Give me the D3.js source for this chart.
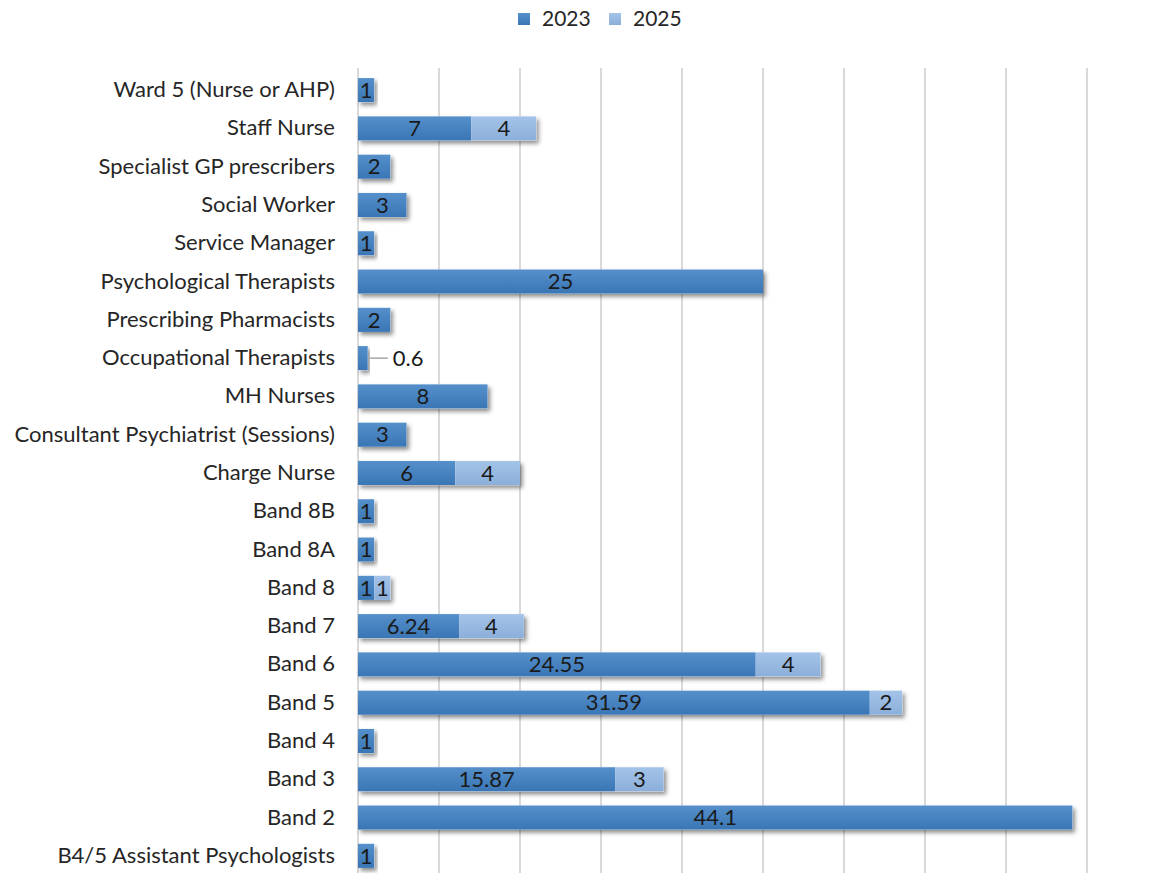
<!DOCTYPE html>
<html>
<head>
<meta charset="utf-8">
<script src="https://cdn.jsdelivr.net/npm/d3@7"></script>
<style>
  html, body { margin: 0; padding: 0; background: #fff; }
  svg { display: block; font-family: Lato, "Open Sans", sans-serif; }
</style>
</head>
<body>
<svg id="chart" width="1161" height="873"></svg>
<script>
// Staffing roles, listed top to bottom
const categories = [
  "Ward 5 (Nurse or AHP)", "Staff Nurse", "Specialist GP prescribers", "Social Worker",
  "Service Manager", "Psychological Therapists", "Prescribing Pharmacists",
  "Occupational Therapists", "MH Nurses", "Consultant Psychiatrist (Sessions)",
  "Charge Nurse", "Band 8B", "Band 8A", "Band 8", "Band 7", "Band 6", "Band 5",
  "Band 4", "Band 3", "Band 2", "B4/5 Assistant Psychologists"
];
const values2023 = [1, 7, 2, 3, 1, 25, 2, 0.6, 8, 3, 6, 1, 1, 1, 6.24, 24.55, 31.59, 1, 15.87, 44.1, 1];
const values2025 = [null, 4, null, null, null, null, null, null, null, null, 4, null, null, 1, 4, 4, 2, null, 3, null, null];
const seriesNames = ["2023", "2025"];
const xTicks = [0, 5, 10, 15, 20, 25, 30, 35, 40, 45];

const svg = d3.select("#chart");
const margin = { left: 358, right: 74, top: 71, bottom: -2 };
const W = 1161, H = 873;
const fontStack = "Lato, 'Open Sans', sans-serif";

const x = d3.scaleLinear().domain([0, 45]).range([margin.left, W - margin.right]);
const y = d3.scaleBand().domain(categories).range([margin.top, H - margin.bottom]).paddingInner(0.37).paddingOuter(0.185);

const defs = svg.append("defs");
function grad(id, top, bottom) {
  const g = defs.append("linearGradient").attr("id", id).attr("x1", 0).attr("y1", 0).attr("x2", 0).attr("y2", 1);
  g.append("stop").attr("offset", "0%").attr("stop-color", top);
  g.append("stop").attr("offset", "100%").attr("stop-color", bottom);
}
grad("g2023", "#5590cb", "#3a76b5");
grad("g2025", "#a4c3e8", "#8bafda");
const f = defs.append("filter").attr("id", "shadow").attr("x", "-10%").attr("y", "-30%").attr("width", "130%").attr("height", "190%");
f.append("feDropShadow").attr("dx", 2.5).attr("dy", 3).attr("stdDeviation", 2).attr("flood-color", "#000").attr("flood-opacity", 0.45);

// Vertical gridlines
svg.append("g").selectAll("line").data(xTicks).join("line")
  .attr("x1", d => x(d)).attr("x2", d => x(d))
  .attr("y1", 68).attr("y2", H)
  .attr("stroke", "#d9d9d9").attr("stroke-width", 2);

// Category axis labels
const yAxis = d3.axisLeft(y).tickSize(0).tickPadding(23);
const ya = svg.append("g").attr("transform", `translate(${margin.left},0)`).call(yAxis);
ya.select(".domain").remove();
ya.selectAll("text").attr("font-size", 22).attr("fill", "#262626").attr("font-family", fontStack);

// Stacked segments
const rows = categories.map((c, i) => ({ cat: c, a: values2023[i], b: values2025[i] }));
const segs = [];
rows.forEach(r => {
  if (r.a != null) segs.push({ cat: r.cat, key: "2023", x0: 0, x1: r.a, v: r.a });
  if (r.b != null) segs.push({ cat: r.cat, key: "2025", x0: r.a || 0, x1: (r.a || 0) + r.b, v: r.b });
});

const bars = svg.append("g");
rows.forEach(r => {
  const total = (r.a || 0) + (r.b || 0);
  bars.append("rect")
    .attr("x", x(0)).attr("y", y(r.cat))
    .attr("width", x(total) - x(0)).attr("height", y.bandwidth())
    .attr("fill", "#fff").attr("filter", "url(#shadow)");
});
bars.selectAll("rect.seg").data(segs).join("rect").attr("class", "seg")
  .attr("x", d => x(d.x0)).attr("y", d => y(d.cat))
  .attr("width", d => x(d.x1) - x(d.x0)).attr("height", y.bandwidth())
  .attr("fill", d => `url(#g${d.key})`);

// Value labels
const labels = svg.append("g").attr("font-size", 22).attr("fill", "#1a1a1a");
segs.forEach(d => {
  const w = x(d.x1) - x(d.x0);
  const cy = y(d.cat) + y.bandwidth() / 2;
  if (w < 12) {
    // Narrow bar: label placed outside with a leader line
    labels.append("line").attr("x1", x(d.x1) + 2).attr("x2", x(d.x1) + 20)
      .attr("y1", cy).attr("y2", cy).attr("stroke", "#a6a6a6").attr("stroke-width", 1.5);
    labels.append("text").attr("x", x(d.x1) + 25).attr("y", cy).attr("dy", "0.35em").text(d.v);
  } else {
    labels.append("text").attr("x", (x(d.x0) + x(d.x1)) / 2).attr("y", cy)
      .attr("dy", "0.35em").attr("text-anchor", "middle").text(d.v);
  }
});

// Legend
const legend = svg.append("g").attr("font-size", 21).attr("fill", "#262626");
const legendX = [518, 609];
seriesNames.forEach((s, i) => {
  legend.append("rect").attr("x", legendX[i]).attr("y", 13).attr("width", 12).attr("height", 12)
    .attr("fill", `url(#g${s})`);
  legend.append("text").attr("x", legendX[i] + 24).attr("y", 19).attr("dy", "0.35em").text(s);
});
</script>
</body>
</html>
